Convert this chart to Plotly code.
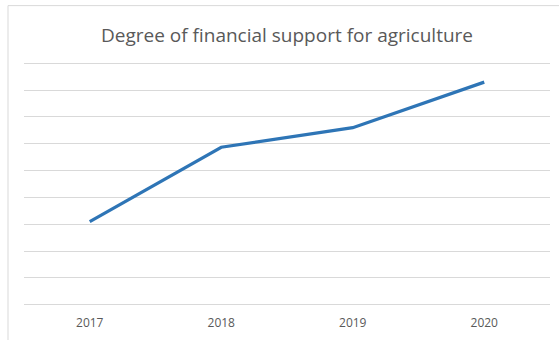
import plotly.graph_objects as go

# Chart data
years = ["2017", "2018", "2019", "2020"]
support_degree = [3.1, 5.87, 6.6, 8.3]

W, H = 559, 340
L, R, T, B = 24, 9, 58, 27
plot_w = W - L - R
plot_h = H - T - B

fig = go.Figure()
fig.add_trace(go.Scatter(
    x=years,
    y=support_degree,
    mode="lines",
    line=dict(color="#2e75b6", width=3.2),
    hoverinfo="x+y",
))

grid_color = "#d9d9d9"

fig.update_layout(
    width=W,
    height=H,
    margin=dict(l=L, r=R, t=T, b=B, pad=0),
    paper_bgcolor="white",
    plot_bgcolor="white",
    showlegend=False,
    title=dict(
        text="Degree of financial support for agriculture",
        x=0.5,
        xref="paper",
        xanchor="center",
        y=1 - 35 / H,
        yref="container",
        yanchor="middle",
        font=dict(family="Open Sans, Calibri, sans-serif", size=19, color="#595959"),
    ),
    xaxis=dict(
        type="category",
        range=[-0.5, 3.5],
        showgrid=False,
        showline=False,
        zeroline=False,
        ticks="",
        tickfont=dict(family="Open Sans, Calibri, sans-serif", size=12, color="#595959"),
        ticklabelstandoff=4,
    ),
    yaxis=dict(
        range=[-0.2, 9.2],
        dtick=1,
        tick0=0,
        showgrid=True,
        gridcolor=grid_color,
        gridwidth=1,
        zeroline=True,
        zerolinecolor=grid_color,
        zerolinewidth=1,
        showline=False,
        showticklabels=False,
        ticks="",
    ),
    shapes=[
        # outer chart frame (top and left edges fall inside the canvas)
        dict(
            type="rect",
            xref="paper",
            yref="paper",
            x0=(8 - L) / plot_w,
            x1=(W + 5 - L) / plot_w,
            y0=(H - (H + 5) - B) / plot_h,
            y1=(H - 5 - B) / plot_h,
            line=dict(color=grid_color, width=1),
            fillcolor="rgba(0,0,0,0)",
            layer="below",
        )
    ],
)

fig.write_html("out.html")
